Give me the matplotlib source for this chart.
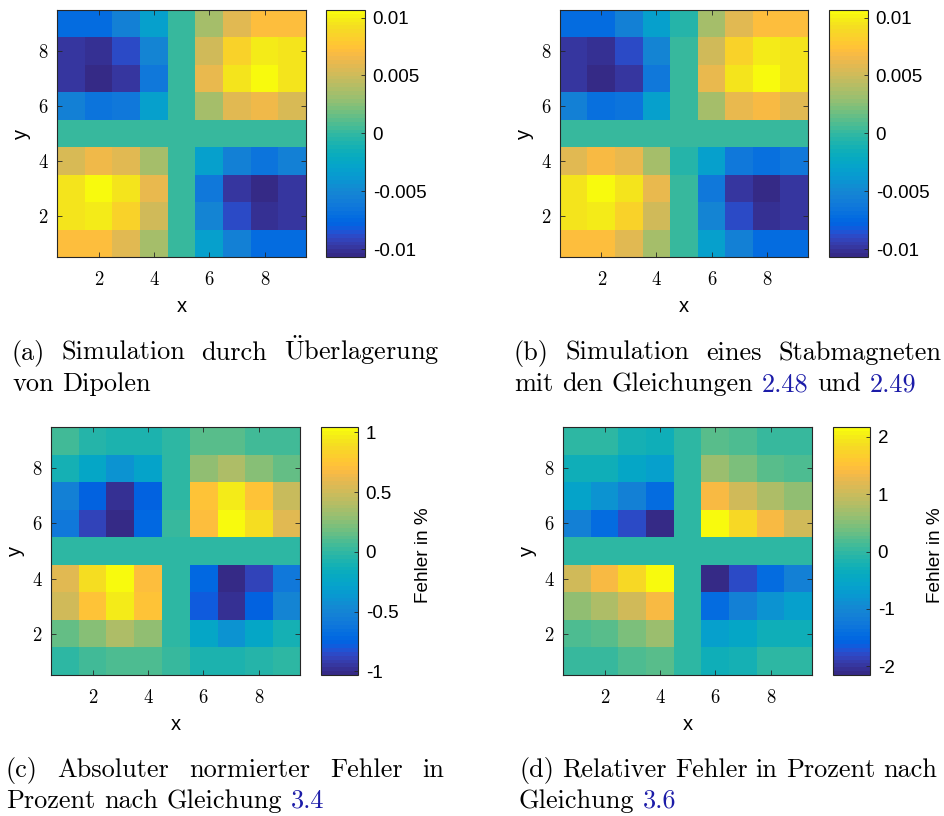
import numpy as np
import matplotlib
matplotlib.use('Agg')
import matplotlib.pyplot as plt
from matplotlib.colors import ListedColormap

plt.rcParams['mathtext.fontset'] = 'cm'

# MATLAB parula, 64 levels
PARULA = [
    [0.2081, 0.1663, 0.5292], [0.2116, 0.1898, 0.5777], [0.2123, 0.2138, 0.6270], [0.2081, 0.2386, 0.6771],
    [0.1959, 0.2645, 0.7279], [0.1707, 0.2919, 0.7792], [0.1253, 0.3242, 0.8303], [0.0591, 0.3598, 0.8683],
    [0.0117, 0.3875, 0.8820], [0.0060, 0.4086, 0.8828], [0.0165, 0.4266, 0.8786], [0.0329, 0.4430, 0.8720],
    [0.0498, 0.4586, 0.8641], [0.0629, 0.4737, 0.8554], [0.0723, 0.4887, 0.8467], [0.0779, 0.5040, 0.8384],
    [0.0793, 0.5200, 0.8312], [0.0749, 0.5375, 0.8263], [0.0641, 0.5570, 0.8240], [0.0488, 0.5772, 0.8228],
    [0.0343, 0.5966, 0.8199], [0.0265, 0.6137, 0.8135], [0.0239, 0.6287, 0.8038], [0.0231, 0.6418, 0.7913],
    [0.0228, 0.6535, 0.7768], [0.0267, 0.6642, 0.7607], [0.0384, 0.6743, 0.7436], [0.0590, 0.6838, 0.7254],
    [0.0843, 0.6928, 0.7062], [0.1133, 0.7015, 0.6859], [0.1453, 0.7098, 0.6646], [0.1801, 0.7177, 0.6424],
    [0.2178, 0.7250, 0.6193], [0.2586, 0.7317, 0.5954], [0.3022, 0.7376, 0.5712], [0.3482, 0.7424, 0.5473],
    [0.3953, 0.7459, 0.5244], [0.4420, 0.7481, 0.5033], [0.4871, 0.7491, 0.4840], [0.5300, 0.7491, 0.4661],
    [0.5709, 0.7485, 0.4494], [0.6099, 0.7473, 0.4337], [0.6473, 0.7456, 0.4188], [0.6834, 0.7435, 0.4044],
    [0.7184, 0.7411, 0.3905], [0.7525, 0.7384, 0.3768], [0.7858, 0.7356, 0.3633], [0.8185, 0.7327, 0.3498],
    [0.8507, 0.7299, 0.3360], [0.8824, 0.7274, 0.3217], [0.9139, 0.7258, 0.3063], [0.9450, 0.7261, 0.2886],
    [0.9739, 0.7314, 0.2666], [0.9938, 0.7455, 0.2403], [0.9990, 0.7653, 0.2164], [0.9955, 0.7861, 0.1967],
    [0.9880, 0.8066, 0.1794], [0.9789, 0.8271, 0.1633], [0.9697, 0.8481, 0.1475], [0.9626, 0.8705, 0.1309],
    [0.9589, 0.8949, 0.1132], [0.9598, 0.9218, 0.0948], [0.9661, 0.9514, 0.0755], [0.9763, 0.9831, 0.0538]]
parula = ListedColormap(PARULA, name='parula')

# field values, rows from y=9 (top) down to y=1, columns x=1..9
sim_dipole = np.array([
    [-7.3, -7.3, -5.5, -3.3, 0.0, 3.5, 5.8, 7.2, 7.2],
    [-9.7, -10.2, -8.8, -5.2, 0.0, 5.2, 8.5, 9.9, 9.5],
    [-9.7, -10.6, -9.7, -6.0, 0.0, 6.0, 9.5, 10.6, 9.5],
    [-5.5, -6.5, -6.0, -3.3, 0.0, 3.5, 5.8, 6.5, 5.5],
    [0.0, 0.0, 0.0, 0.0, 0.0, 0.0, 0.0, 0.0, 0.0],
    [5.5, 6.5, 5.8, 3.5, 0.0, -3.3, -5.5, -6.5, -5.5],
    [9.5, 10.6, 9.5, 6.0, 0.0, -6.0, -9.7, -10.6, -9.7],
    [9.5, 9.9, 8.5, 5.2, 0.0, -5.2, -8.8, -10.2, -9.7],
    [7.2, 7.2, 5.8, 3.5, 0.0, -3.3, -5.5, -7.3, -7.3]]) * 1e-3

sim_bar = np.array([
    [-7.3, -7.3, -5.5, -3.3, -0.4, 3.5, 5.8, 7.2, 7.2],
    [-9.7, -10.2, -8.8, -5.2, 0.0, 5.2, 8.5, 9.9, 9.5],
    [-9.7, -10.6, -9.7, -6.0, 0.0, 6.0, 9.5, 10.6, 9.5],
    [-5.5, -6.8, -6.4, -3.3, 0.0, 3.5, 6.0, 6.8, 5.9],
    [0.0, 0.0, 0.0, 0.0, 0.0, 0.0, 0.0, 0.0, 0.0],
    [5.8, 6.8, 6.1, 3.5, -0.4, -3.3, -6.0, -6.8, -6.0],
    [9.5, 10.6, 9.5, 6.0, 0.0, -6.0, -9.7, -10.6, -9.7],
    [9.5, 9.9, 8.5, 5.2, 0.0, -5.2, -8.8, -10.2, -9.7],
    [7.2, 7.2, 5.8, 3.5, 0.0, -3.3, -5.5, -7.3, -7.3]]) * 1e-3

err_abs = np.array([
    [0.06, -0.04, -0.07, -0.07, 0.0, 0.12, 0.12, 0.06, 0.06],
    [-0.11, -0.24, -0.40, -0.28, 0.0, 0.28, 0.38, 0.25, 0.15],
    [-0.53, -0.75, -0.97, -0.77, 0.0, 0.74, 0.97, 0.74, 0.48],
    [-0.59, -0.88, -1.03, -0.72, 0.02, 0.71, 1.045, 0.90, 0.58],
    [0.0, 0.0, 0.0, 0.0, 0.0, 0.0, 0.0, 0.0, 0.0],
    [0.58, 0.89, 1.04, 0.72, 0.0, -0.72, -1.03, -0.88, -0.59],
    [0.51, 0.74, 0.98, 0.74, 0.0, -0.79, -0.97, -0.75, -0.50],
    [0.15, 0.25, 0.39, 0.28, 0.0, -0.24, -0.39, -0.24, -0.12],
    [-0.01, 0.04, 0.09, 0.09, 0.02, -0.07, -0.07, -0.04, -0.01]])

err_rel = np.array([
    [0.0, 0.0, -0.20, -0.30, 0.0, 0.25, 0.21, 0.05, 0.05],
    [-0.27, -0.30, -0.47, -0.63, 0.0, 0.65, 0.45, 0.25, 0.21],
    [-0.54, -0.83, -1.10, -1.44, 0.0, 1.40, 1.06, 0.82, 0.59],
    [-1.10, -1.41, -1.78, -2.15, 0.0, 2.17, 1.80, 1.40, 1.06],
    [0.0, 0.0, 0.0, 0.0, 0.0, 0.0, 0.0, 0.0, 0.0],
    [1.06, 1.40, 1.80, 2.17, 0.0, -2.15, -1.78, -1.44, -1.10],
    [0.59, 0.82, 1.06, 1.40, 0.0, -1.44, -1.10, -0.83, -0.61],
    [0.18, 0.25, 0.45, 0.65, 0.0, -0.61, -0.47, -0.30, -0.27],
    [0.05, 0.05, 0.18, 0.25, 0.0, -0.30, -0.20, 0.0, 0.0]])

clims = [(-0.01066, 0.01065), (-0.01066, 0.01065), (-1.03, 1.045), (-2.15, 2.17)]
cbar_ticks = [[-0.01, -0.005, 0, 0.005, 0.01], [-0.01, -0.005, 0, 0.005, 0.01],
              [-1, -0.5, 0, 0.5, 1], [-2, -1, 0, 1, 2]]
cbar_ticklabels = [['-0.01', '-0.005', '0', '0.005', '0.01'], ['-0.01', '-0.005', '0', '0.005', '0.01'],
                   ['-1', '-0.5', '0', '0.5', '1'], ['-2', '-1', '0', '1', '2']]
cbar_labels = [None, None, 'Fehler in %', 'Fehler in %']
axis_ticks = [2, 4, 6, 8]

K = 'black'
B = '#1c1ca8'
captions = [
    [[('(a)', K), ('Simulation', K), ('durch', K), (r'$\ddot{\mathrm{U}}$berlagerung', K)],
     [('von', K), ('Dipolen', K)]],
    [[('(b)', K), ('Simulation', K), ('eines', K), ('Stabmagneten', K)],
     [('mit', K), ('den', K), ('Gleichungen', K), ('2.48', B), ('und', K), ('2.49', B)]],
    [[('(c)', K), ('Absoluter', K), ('normierter', K), ('Fehler', K), ('in', K)],
     [('Prozent', K), ('nach', K), ('Gleichung', K), ('3.4', B)]],
    [[('(d)', K), ('Relativer', K), ('Fehler', K), ('in', K), ('Prozent', K), ('nach', K)],
     [('Gleichung', K), ('3.6', B)]],
]

W, H = 944, 816
fig = plt.figure(figsize=(W / 100, H / 100), dpi=100)
renderer = fig.canvas.get_renderer()

SERIF = 'cmr10'
SANS = 'Liberation Sans'
EDGE = '#262626'
CAP_FS = 18.9


def box(x0, y0, x1, y1):
    return [x0 / W, 1 - y1 / H, (x1 - x0) / W, (y1 - y0) / H]


def caption(x0, x1, y, words, justify):
    texts = [fig.text(0, 0, w, color=c, fontsize=CAP_FS, family=SERIF, va='baseline')
             for w, c in words]
    widths = [t.get_window_extent(renderer).width for t in texts]
    if justify:
        gap = (x1 - x0 - sum(widths)) / (len(texts) - 1)
    else:
        gap = 0.333 * CAP_FS * 100 / 72
    x = x0
    for t, w in zip(texts, widths):
        t.set_position((x / W, 1 - y / H))
        x += w + gap


# pixel layout: axes box, colorbar box, caption span and baselines
layout = [
    dict(ax=(57, 10, 306, 257), cb=(326, 10, 365, 257), cap=(12, 439, 360, 391)),
    dict(ax=(560, 10, 808, 257), cb=(829, 10, 868, 257), cap=(514, 941, 360, 391)),
    dict(ax=(51, 427, 300, 675), cb=(321, 427, 358, 675), cap=(6, 444, 777, 808)),
    dict(ax=(563, 427, 812, 675), cb=(833, 427, 870, 675), cap=(519, 937, 777, 808)),
]
fields = [sim_dipole, sim_bar, err_abs, err_rel]

for i, (field, lay) in enumerate(zip(fields, layout)):
    ax = fig.add_axes(box(*lay['ax']))
    vmin, vmax = clims[i]
    im = ax.imshow(field, cmap=parula, vmin=vmin, vmax=vmax, origin='upper',
                   extent=(0.5, 9.5, 0.5, 9.5), aspect='auto', interpolation='nearest')
    ax.set_xticks(axis_ticks)
    ax.set_yticks(axis_ticks)
    ax.tick_params(direction='in', top=True, right=True, length=3.5, width=0.6,
                   color=EDGE, labelsize=13.5, labelfontfamily=SERIF)
    ax.tick_params(axis='x', pad=10)
    ax.tick_params(axis='y', pad=6.5)
    for s in ax.spines.values():
        s.set_color(EDGE)
        s.set_linewidth(0.8)
    ax.set_xlabel('x', family=SANS, fontsize=14.5)
    ax.set_ylabel('y', family=SANS, fontsize=14.5)
    ax_h = lay['ax'][3] - lay['ax'][1]
    ax_w = lay['ax'][2] - lay['ax'][0]
    ax.xaxis.set_label_coords(0.5, -40 / ax_h)
    ax.yaxis.set_label_coords(-26 / ax_w, 0.5)

    cax = fig.add_axes(box(*lay['cb']))
    cb = fig.colorbar(im, cax=cax)
    cb.set_ticks(cbar_ticks[i])
    cb.set_ticklabels(cbar_ticklabels[i])
    cax.tick_params(direction='in', left=False, right=True, length=3, width=0.6,
                    color=EDGE, labelsize=13.5, pad=5.5)
    for lbl in cax.get_yticklabels():
        lbl.set_fontfamily(SANS)
    cb.outline.set_edgecolor(EDGE)
    cb.outline.set_linewidth(0.8)
    if cbar_labels[i]:
        cx = lay['cb'][2] + 65
        cy = (lay['cb'][1] + lay['cb'][3]) / 2 + 4
        fig.text(cx / W, 1 - cy / H, cbar_labels[i], rotation=90, ha='center', va='center',
                 family=SANS, fontsize=13.7)

    cx0, cx1, y1, y2 = lay['cap']
    caption(cx0, cx1, y1, captions[i][0], True)
    caption(cx0, cx1, y2, captions[i][1], False)

fig.savefig('out.png', dpi=100)
